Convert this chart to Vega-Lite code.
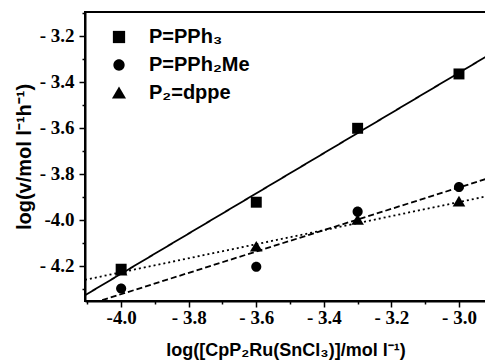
{
  "$schema": "https://vega.github.io/schema/vega-lite/v6.json",
  "width": 401,
  "height": 289,
  "autosize": {"type": "none"},
  "padding": {"left": 85, "top": 12, "right": 0, "bottom": 60},
  "background": "white",
  "view": {"stroke": "black", "strokeWidth": 2},
  "datasets": {
    "points": [
      {"series": "P=PPh₃", "x": -4.0, "y": -4.214},
      {"series": "P=PPh₃", "x": -3.6, "y": -3.923},
      {"series": "P=PPh₃", "x": -3.3, "y": -3.602},
      {"series": "P=PPh₃", "x": -3.0, "y": -3.366},
      {"series": "P=PPh₂Me", "x": -4.0, "y": -4.298},
      {"series": "P=PPh₂Me", "x": -3.6, "y": -4.203},
      {"series": "P=PPh₂Me", "x": -3.3, "y": -3.964},
      {"series": "P=PPh₂Me", "x": -3.0, "y": -3.857},
      {"series": "P₂=dppe", "x": -4.0, "y": -4.22},
      {"series": "P₂=dppe", "x": -3.6, "y": -4.116},
      {"series": "P₂=dppe", "x": -3.3, "y": -4.0},
      {"series": "P₂=dppe", "x": -3.0, "y": -3.92}
    ],
    "fits": [
      {"fit": "PPh3", "x": -4.107, "y": -4.327},
      {"fit": "PPh3", "x": -2.92, "y": -3.291},
      {"fit": "PPh2Me", "x": -4.107, "y": -4.372},
      {"fit": "PPh2Me", "x": -2.92, "y": -3.822},
      {"fit": "dppe", "x": -4.107, "y": -4.26},
      {"fit": "dppe", "x": -2.92, "y": -3.898}
    ]
  },
  "encoding": {
    "x": {
      "field": "x", "type": "quantitative",
      "scale": {"domain": [-4.107, -2.92], "nice": false, "zero": false},
      "axis": {
        "title": "log([CpP₂Ru(SnCl₃)]/mol l⁻¹)",
        "values": [-4.1, -4.0, -3.9, -3.8, -3.7, -3.6, -3.5, -3.4, -3.3, -3.2, -3.1, -3.0],
        "labelExpr": "round(datum.value*10)%2 != 0 ? '' : (datum.value == -4 ? '-4.0' : '- ' + format(abs(datum.value), '.1f'))",
        "tickSize": {"condition": {"test": "round(datum.value*10)%2 == 0", "value": 6}, "value": 3},
        "grid": false,
        "domainColor": "black", "domainWidth": 2,
        "tickColor": "black", "tickWidth": 1.5,
        "labelFont": "Liberation Serif", "labelFontWeight": "bold", "labelFontSize": 19, "labelColor": "black",
        "labelPadding": 1,
        "titleFont": "Liberation Sans", "titleFontWeight": "bold", "titleFontSize": 18, "titleColor": "black",
        "titlePadding": 14
      }
    },
    "y": {
      "field": "y", "type": "quantitative",
      "scale": {"domain": [-4.352, -3.097], "nice": false, "zero": false},
      "axis": {
        "title": "log(v/mol l⁻¹h⁻¹)",
        "values": [-4.3, -4.2, -4.1, -4.0, -3.9, -3.8, -3.7, -3.6, -3.5, -3.4, -3.3, -3.2, -3.1],
        "labelExpr": "round(datum.value*10)%2 != 0 ? '' : (datum.value == -4 ? '-4.0' : '- ' + format(abs(datum.value), '.1f'))",
        "tickSize": {"condition": {"test": "round(datum.value*10)%2 == 0", "value": 6}, "value": 3},
        "grid": false,
        "domainColor": "black", "domainWidth": 2,
        "tickColor": "black", "tickWidth": 1.5,
        "labelFont": "Liberation Serif", "labelFontWeight": "bold", "labelFontSize": 19, "labelColor": "black",
        "labelPadding": 5,
        "titleFont": "Liberation Sans", "titleFontWeight": "bold", "titleFontSize": 20, "titleColor": "black",
        "titlePadding": 5
      }
    }
  },
  "layer": [
    {
      "data": {"name": "fits"},
      "mark": {"type": "line", "color": "black", "strokeWidth": 1.8, "clip": true},
      "encoding": {
        "strokeDash": {
          "field": "fit", "type": "nominal",
          "scale": {"domain": ["PPh3", "PPh2Me", "dppe"], "range": [[1, 0], [6, 3], [2, 3]]},
          "legend": null
        }
      }
    },
    {
      "data": {"name": "points"},
      "mark": {"type": "point", "filled": true, "color": "black", "opacity": 1, "size": 120},
      "encoding": {
        "shape": {
          "field": "series", "type": "nominal",
          "scale": {"domain": ["P=PPh₃", "P=PPh₂Me", "P₂=dppe"], "range": ["square", "M-0.92,0A0.92,0.92 0 1,0 0.92,0A0.92,0.92 0 1,0 -0.92,0Z", "M0,-1.05L1.15,0.9L-1.15,0.9Z"]},
          "legend": {
            "title": null,
            "orient": "none",
            "legendX": 24,
            "legendY": 15,
            "symbolSize": 150,
            "symbolFillColor": "black",
            "symbolStrokeColor": "black",
            "symbolStrokeWidth": 0,
            "symbolOpacity": 1,
            "labelFont": "Liberation Sans",
            "labelFontWeight": "bold",
            "labelFontSize": 20,
            "labelColor": "black",
            "labelOffset": 20,
            "rowPadding": 8
          }
        }
      }
    }
  ]
}
